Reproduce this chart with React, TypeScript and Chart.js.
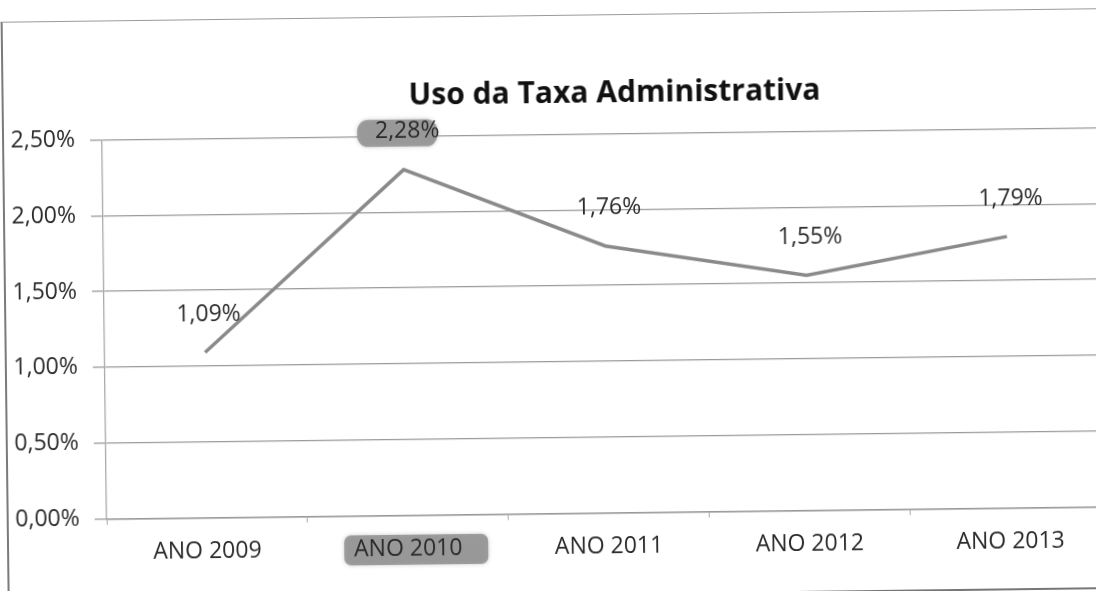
import React, { useEffect, useRef } from "react";
import { Chart, registerables } from "chart.js";

Chart.register(...registerables);

const categories = ["ANO 2009", "ANO 2010", "ANO 2011", "ANO 2012", "ANO 2013"];
const values = [1.09, 2.28, 1.76, 1.55, 1.79];
const valueLabels = ["1,09%", "2,28%", "1,76%", "1,55%", "1,79%"];
const yTicks = [0, 0.5, 1, 1.5, 2, 2.5];
const title = "Uso da Taxa Administrativa";
const highlightedIndex = 1;

const FONT = "'Open Sans', 'Noto Sans', sans-serif";
const W = 1110;
const H = 591;

const fmtPct = (v: number) => v.toFixed(2).replace(".", ",") + "%";

export default function App() {
  const ref = useRef<HTMLCanvasElement | null>(null);

  useEffect(() => {
    document.body.style.margin = "0";
    const canvas = ref.current;
    if (!canvas) return;

    const decor = {
      id: "decor",
      beforeDraw(chart: any) {
        const ctx = chart.ctx;
        const meta = chart.getDatasetMeta(0);
        const x = chart.scales.x;
        ctx.save();
        ctx.fillStyle = "rgba(140,140,140,0.8)";
        ctx.shadowColor = "rgba(140,140,140,0.6)";
        ctx.shadowBlur = 4;
        // highlighter behind the value label
        const p = meta.data[highlightedIndex];
        if (p) {
          const lx = p.x + 4;
          const ly = p.y - 38;
          ctx.beginPath();
          ctx.roundRect(lx - 50, ly - 12, 80, 27, 11);
          ctx.fill();
        }
        // highlighter behind the category label
        const tx = x.getPixelForValue(highlightedIndex);
        ctx.beginPath();
        ctx.roundRect(tx - 64, 533, 144, 30, 7);
        ctx.fill();
        ctx.restore();
      },
      afterDatasetsDraw(chart: any) {
        const ctx = chart.ctx;
        const meta = chart.getDatasetMeta(0);
        ctx.save();
        ctx.font = `23px ${FONT}`;
        ctx.fillStyle = "#2a2a2a";
        ctx.textAlign = "center";
        ctx.textBaseline = "middle";
        meta.data.forEach((pt: any, i: number) => {
          ctx.fillText(valueLabels[i], pt.x + 4, pt.y - 38);
        });
        ctx.font = `bold 30px ${FONT}`;
        ctx.fillStyle = "#111";
        ctx.fillText(title, 617, 94);
        ctx.restore();
      },
    };

    const chart = new Chart(canvas, {
      type: "line",
      data: {
        labels: categories,
        datasets: [
          {
            data: values,
            borderColor: "#8a8a8a",
            borderWidth: 3.5,
            pointRadius: 0,
            tension: 0,
            fill: false,
          },
        ],
      },
      options: {
        responsive: false,
        animation: false,
        devicePixelRatio: 1,
        layout: { padding: { top: 134.5, left: 0, right: 2, bottom: 0 } },
        plugins: {
          legend: { display: false },
          title: { display: false },
          tooltip: { enabled: false },
        },
        scales: {
          x: {
            type: "category",
            offset: true,
            grid: {
              offset: true,
              drawOnChartArea: false,
              drawTicks: true,
              tickLength: 6,
              color: "#aaa",
            },
            border: { display: true, color: "#999", width: 1.5 },
            ticks: {
              padding: 14,
              color: "#2a2a2a",
              font: { family: FONT, size: 23 },
              maxRotation: 0,
            },
            afterFit(scale: any) {
              scale.height = H - 513.5;
            },
          },
          y: {
            min: 0,
            max: 2.5,
            afterBuildTicks(scale: any) {
              scale.ticks = yTicks.map((v) => ({ value: v }));
            },
            grid: { color: "#9a9a9a", lineWidth: 1.3, tickLength: 12 },
            border: { display: true, color: "#aaa", width: 1.3 },
            ticks: {
              padding: 15,
              color: "#2a2a2a",
              font: { family: FONT, size: 23 },
              callback: (v: any) => fmtPct(Number(v)),
            },
            afterFit(scale: any) {
              scale.width = 104;
            },
          },
        },
      },
      plugins: [decor],
    });
    return () => chart.destroy();
  }, []);

  return (
    <div
      style={{
        position: "relative",
        width: 1096,
        height: H,
        overflow: "hidden",
        background: "#fff",
      }}
    >
      <div
        style={{
          position: "absolute",
          left: 0,
          top: 0,
          width: W,
          height: H,
          transform: "rotate(-0.7deg)",
          transformOrigin: "548px 295px",
        }}
      >
        <div
          style={{
            position: "absolute",
            left: 4,
            top: 15,
            width: 1300,
            height: 578,
            borderLeft: "2px solid #7a7a7a",
            borderTop: "1.5px solid #9a9a9a",
            borderBottom: "2px solid #777",
          }}
        />
        <canvas
          ref={ref}
          width={W}
          height={H}
          style={{ position: "absolute", left: 0, top: 0, width: W, height: H }}
        />
      </div>
    </div>
  );
}
